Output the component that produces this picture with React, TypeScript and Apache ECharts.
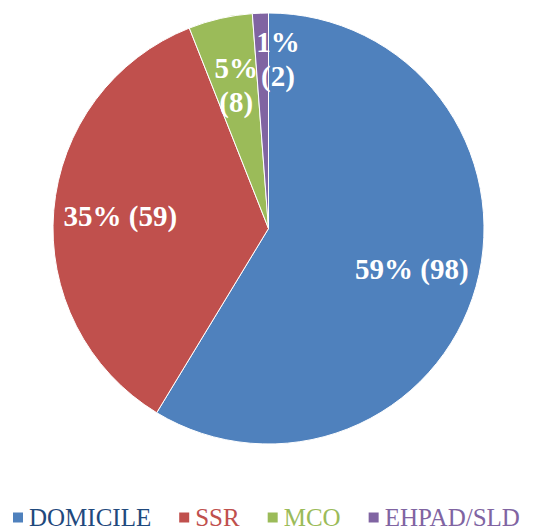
import React, { useEffect, useRef } from "react";
import * as echarts from "echarts";

const categories = ["DOMICILE", "SSR", "MCO", "EHPAD/SLD"];
const counts = [98, 59, 8, 2];
const colors = ["#4F81BD", "#C0504D", "#9BBB59", "#8064A2"];
const legendColors = ["#1F497D", "#C0504D", "#9BBB59", "#8064A2"];
const labelTexts = ["59% (98)", "35% (59)", "5%\n(8)", "1%\n(2)"];

const SERIF = "'Liberation Serif', 'Times New Roman', serif";

export default function App() {
  const ref = useRef<HTMLDivElement>(null);
  useEffect(() => {
    if (!ref.current) return;
    const chart = echarts.init(ref.current, null, { renderer: "svg" });
    const data = categories.map((c, i) => ({
      name: c,
      value: counts[i],
      itemStyle: { color: colors[i] },
    }));
    chart.setOption({
      animation: false,
      backgroundColor: "#ffffff",
      legend: {
        top: 505,
        left: 11,
        padding: 0,
        icon: "rect",
        itemWidth: 12,
        itemHeight: 12,
        itemGap: 26,
        data: categories.map((c, i) => ({
          name: c,
          itemStyle: { color: colors[i] },
          textStyle: { color: legendColors[i] },
        })),
        textStyle: { fontFamily: SERIF, fontSize: 25, lineHeight: 25 },
      },
      series: [
        {
          type: "pie",
          center: [268.5, 228.5],
          radius: [0, 215.5],
          startAngle: 90,
          clockwise: true,
          silent: true,
          itemStyle: { borderColor: "#ffffff", borderWidth: 1 },
          label: { show: false },
          labelLine: { show: false },
          data,
        },
        {
          type: "pie",
          center: [268.5, 228.5],
          radius: [76, 215.5],
          startAngle: 90,
          clockwise: true,
          silent: true,
          itemStyle: { color: "transparent", borderWidth: 0 },
          label: {
            show: true,
            position: "inside",
            rotate: 0,
            color: "#ffffff",
            fontFamily: SERIF,
            fontWeight: "bold",
            fontSize: 29,
            lineHeight: 34,
            formatter: (p: any) => labelTexts[p.dataIndex],
          },
          labelLine: { show: false },
          labelLayout: (p: any) =>
            p.dataIndex === 3 ? { dx: 15, dy: -21 } : p.dataIndex === 2 ? { dx: 1, dy: 1 } : {},
          data: categories.map((c, i) => ({ name: c, value: counts[i] })),
        },
      ],
    });
    return () => chart.dispose();
  }, []);
  return (
    <div
      ref={ref}
      style={{ position: "fixed", left: 0, top: 0, width: 534, height: 531 }}
    />
  );
}
